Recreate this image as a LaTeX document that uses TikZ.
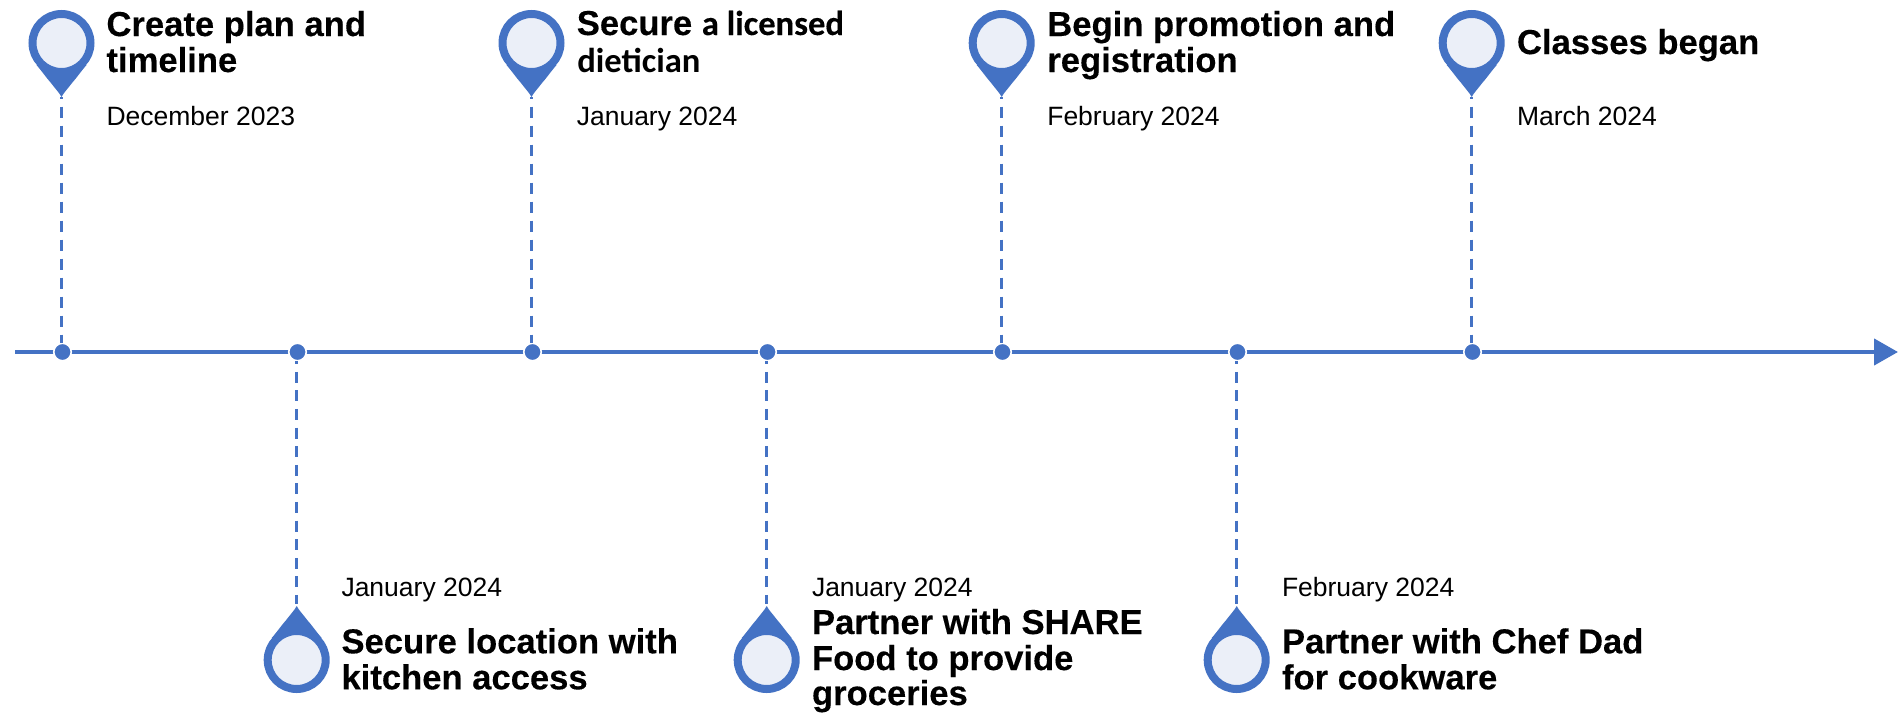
\documentclass[tikz,border=0pt]{standalone}
\usepackage{fontspec}
\setmainfont[BoldFeatures={FakeBold=0.25}]{Liberation Sans}
\newfontfamily\carlitofont{Carlito}
\usetikzlibrary{arrows.meta}
\definecolor{pinblue}{HTML}{4472C4}
\definecolor{pinpale}{HTML}{EBEFF8}
\tikzset{
  axisline/.style={draw=pinblue,line width=4.4pt,-{Triangle[length=24pt,width=26pt]}},
  axisdot/.style={circle,fill=pinblue,draw=white,line width=1.6pt,minimum size=17.5pt,inner sep=0pt,outer sep=0pt},
  pinring/.style={circle,fill=pinpale,draw=pinblue,line width=8pt,minimum size=58pt,inner sep=0pt,outer sep=0pt},
  updash/.style={draw=pinblue,line width=3.2pt,dash pattern=on 11.4pt off 7.6pt,dash phase=9.4pt},
  downdash/.style={draw=pinblue,line width=3.2pt,dash pattern=on 11pt off 7.6pt,dash phase=7.6pt,shorten >=2pt},
  headline/.style={anchor=base west,inner sep=0pt,outer sep=0pt,font=\fontsize{34.6}{36}\selectfont\bfseries},
  dateline/.style={anchor=base west,inner sep=0pt,outer sep=0pt,font=\fontsize{26.5}{30}\selectfont},
}
% name, x, y of circle centre, direction of the tip (1 below, -1 above)
\newcommand{\pinmark}[4]{%
  \fill[pinblue] (#2-25,#3+#4*22) .. controls (#2-19,#3+#4*29) and (#2-15,#3+#4*35) .. (#2-10.5,#3+#4*40) .. controls (#2-6,#3+#4*46) and (#2-2,#3+#4*50) .. (#2,#3+#4*54)
     .. controls (#2+2,#3+#4*50) and (#2+6,#3+#4*46) .. (#2+10.5,#3+#4*40) .. controls (#2+15,#3+#4*35) and (#2+19,#3+#4*29) .. (#2+25,#3+#4*22) -- cycle;
  \node[pinring] (#1) at (#2,#3) {};
  \coordinate (#1tip) at (#2,#3+#4*54);
}
\begin{document}
\begin{tikzpicture}[x=1pt,y=-1pt]
\useasboundingbox (0,0) rectangle (1898,713);
\fill[white] (0,0) rectangle (1898,713);
\coordinate (axisstart) at (15,352);
\coordinate (axisend) at (1898,352);
\draw[axisline] (axisstart) -- (axisend);
\foreach \n/\x in {d1/62.5,d2/297.5,d3/532.5,d4/767.5,d5/1002.5,d6/1237.5,d7/1472.5}
  \node[axisdot] (\n) at (\x,352) {};

\pinmark{p1}{61.5}{43}{1}
\pinmark{p3}{531.5}{43}{1}
\pinmark{p5}{1001.7}{43}{1}
\pinmark{p7}{1471.7}{43}{1}
\pinmark{p2}{296.7}{660}{-1}
\pinmark{p4}{766.7}{660}{-1}
\pinmark{p6}{1236.7}{660}{-1}

\draw[updash] (p1tip) -- (p1tip |- d1.north);
\draw[updash] (p3tip) -- (p3tip |- d3.north);
\draw[updash] (p5tip) -- (p5tip |- d5.north);
\draw[updash] (p7tip) -- (p7tip |- d7.north);
\draw[downdash] (p2tip |- d2.south) -- (p2tip);
\draw[downdash] (p4tip |- d4.south) -- (p4tip);
\draw[downdash] (p6tip |- d6.south) -- (p6tip);

\node[headline] (t1a) at (106.5,36) {Create plan and};
\node[headline] (t1b) at (106.5,72) {timeline};
\node[dateline] (t1c) at (106.5,125) {December 2023};

\node[headline] (t3a) at (576.8,35) {Secure {\carlitofont\addfontfeature{FakeBold=0.25}\fontsize{34.6}{36}\selectfont a licensed}};
\node[headline,font=\fontsize{34.6}{36}\selectfont\bfseries\carlitofont] (t3b) at (577.3,72) {dietician};
\node[dateline] (t3c) at (576.8,125) {January 2024};

\node[headline] (t5a) at (1047.3,36) {Begin promotion and};
\node[headline] (t5b) at (1047.3,72) {registration};
\node[dateline] (t5c) at (1047.3,125) {February 2024};

\node[headline] (t7a) at (1517,54) {Classes began};
\node[dateline] (t7c) at (1517,125) {March 2024};

\node[dateline] (t2c) at (341.5,596) {January 2024};
\node[headline] (t2a) at (341.5,653.3) {Secure location with};
\node[headline] (t2b) at (341.5,689.3) {kitchen access};

\node[dateline] (t4c) at (812,596) {January 2024};
\node[headline] (t4a) at (812,634) {Partner with SHARE};
\node[headline] (t4b) at (812,670) {Food to provide};
\node[headline] (t4d) at (812,705) {groceries};

\node[dateline] (t6c) at (1282,596) {February 2024};
\node[headline] (t6a) at (1282,653.3) {Partner with Chef Dad};
\node[headline] (t6b) at (1282,689.3) {for cookware};
\end{tikzpicture}
\end{document}
